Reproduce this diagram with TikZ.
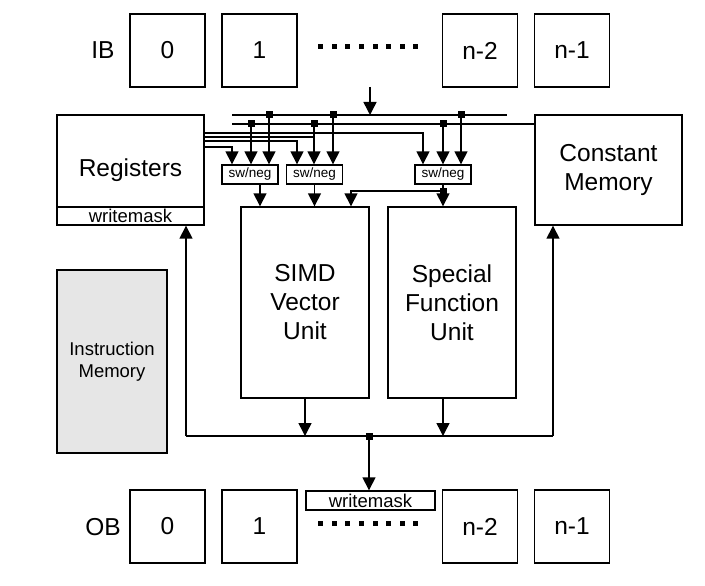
\documentclass[tikz,border=0pt]{standalone}
\usepackage{fontspec}
\setmainfont{Liberation Sans}
\usetikzlibrary{arrows.meta}
\definecolor{imfill}{HTML}{E6E6E6}
\begin{document}
\begin{tikzpicture}[x=1pt,y=-1pt,
  box/.style={draw, line width=1.4pt, inner sep=0pt, align=center},
  big/.style={font=\fontsize{24.5}{29}\selectfont},
  mid/.style={font=\fontsize{18.5}{22}\selectfont},
  small/.style={font=\fontsize{13.5}{14}\selectfont},
  slot/.style={box, big, minimum width=75pt, minimum height=73pt},
  arr/.style={line width=1.5pt, -{Triangle[length=13pt,width=13pt]}},
  ln/.style={line width=1.5pt}]
\useasboundingbox (0,0) rectangle (705,586);
\fill[white] (0,0) rectangle (705,586);

% input / output buffers
\node[big] (iblab) at (103,50) {IB};
\node[slot] (ib0) at (167.5,50.5) {0};
\node[slot] (ib1) at (259.5,50.5) {1};
\node[slot] (ibn2) at (480,50.5) {n-2};
\node[slot] (ibn1) at (572,50.5) {n-1};
\node[big] (oblab) at (103,527) {OB};
\node[slot] (ob0) at (167.5,526.5) {0};
\node[slot] (ob1) at (259.5,526.5) {1};
\node[slot] (obn2) at (480,526.5) {n-2};
\node[slot] (obn1) at (572,526.5) {n-1};
\foreach \i in {0,...,7} {
  \fill ({318.2+13.6*\i},44.2) rectangle ++(5,5);
  \fill ({318.2+13.6*\i},520.8) rectangle ++(5,5);
}

% main blocks
\node[box,big,minimum width=147pt,minimum height=110pt] (reg) at (130.5,170) {Registers};
\node[box,mid,minimum width=147pt,minimum height=18pt] (wm1) at (130.5,216) {writemask};
\node[box,big,minimum width=147pt,minimum height=110pt] (const) at (608.5,170) {Constant\\Memory};
\node[box,big,minimum width=128pt,minimum height=191pt] (simd) at (305,302.5) {SIMD\\Vector\\Unit};
\node[box,big,minimum width=128pt,minimum height=191pt] (sfu) at (452,302.5) {Special\\Function\\Unit};
\node[box,mid,fill=imfill,minimum width=110pt,minimum height=183pt] (imem) at (112,361.5) {Instruction\\Memory};
\node[box,small,minimum width=56pt,minimum height=19pt] (sw1) at (250,174.5) {sw/neg};
\node[box,small,minimum width=56pt,minimum height=19pt] (sw2) at (314.5,174.5) {sw/neg};
\node[box,small,minimum width=56pt,minimum height=19pt] (sw3) at (443,174.5) {sw/neg};
\node[box,mid,minimum width=129pt,minimum height=19pt] (wm2) at (370.5,500.5) {writemask};

% coordinates
\coordinate (ibtop) at (370,87);
\coordinate (ibbus) at (370,115);
\coordinate (b1s) at (232,115);
\coordinate (b1e) at (507,115);
\coordinate (b2s) at (232,124);
\coordinate (d11) at (269,115);
\coordinate (d12) at (333,115);
\coordinate (d13) at (461,115);
\coordinate (d21) at (251,124);
\coordinate (d22) at (314,124);
\coordinate (d23) at (443,124);
\coordinate (ra) at (204,133);
\coordinate (rb) at (204,137);
\coordinate (rc) at (204,141);
\coordinate (rd) at (204,147);
\coordinate (sd) at (443,191);
\coordinate (bl) at (186,436);
\coordinate (br) at (553,436);
\coordinate (bd) at (369,436);

% top buses
\draw[arr] (ibtop) -- (ibbus);
\draw[ln] (b1s) -- (b1e);
\draw[ln] (b2s) -- (b2s -| const.west);

% register outputs
\draw[arr] (ra) -| ([xshift=-20pt]sw3.north);
\draw[ln] (rb) -- (rb -| d22);
\draw[arr] (rc) -| ([xshift=-17.5pt]sw2.north);
\draw[arr] (rd) -| ([xshift=-18pt]sw1.north);

% bus taps
\draw[arr] (d21) -- (d21 |- sw1.north);
\draw[arr] (d11) -- (d11 |- sw1.north);
\draw[arr] (d22) -- (d22 |- sw2.north);
\draw[arr] (d12) -- (d12 |- sw2.north);
\draw[arr] (d23) -- (d23 |- sw3.north);
\draw[arr] (d13) -- (d13 |- sw3.north);

% sw/neg outputs
\draw[arr] ([xshift=10pt]sw1.south) -- ([xshift=10pt]sw1.south |- simd.north);
\draw[arr] (sw2.south) -- (sw2.south |- simd.north);
\draw[arr] (sw3.south) -- (sw3.south |- sfu.north);
\draw[arr] (sd) -| ([xshift=46pt]simd.north);

% output bus
\draw[arr] (simd.south) -- (simd.south |- bl);
\draw[arr] ([xshift=-9pt]sfu.south) -- ([xshift=-9pt]sfu.south |- bl);
\draw[ln] (bl) -- (br);
\draw[arr] (bl) -- (bl |- wm1.south);
\draw[arr] (br) -- (br |- const.south);
\draw[arr] (bd) -- (bd |- wm2.north);

% junction dots
\foreach \p in {d11,d12,d13,d21,d22,d23,sd,bd}
  \fill (\p) ++(-3.5,-3.5) rectangle ++(7,7);
\end{tikzpicture}
\end{document}
